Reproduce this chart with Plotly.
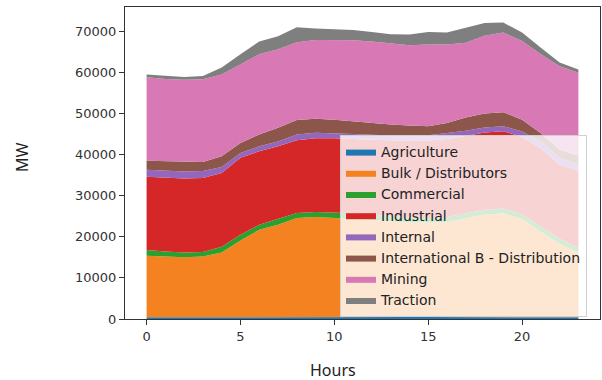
import plotly.graph_objects as go

hours = list(range(24))

agriculture = [430, 420, 420, 420, 430, 450, 470, 480, 490, 490, 490, 490,
               480, 480, 470, 470, 470, 480, 490, 490, 480, 470, 450, 440]
bulk = [14970, 14780, 14580, 14780, 15770, 18650, 21230, 22420, 24110, 24310, 24110, 23910,
        23620, 23320, 23030, 22930, 23130, 24020, 24910, 25210, 23820, 20830, 17850, 15660]
commercial = [1400, 1200, 1200, 1100, 1400, 1400, 1200, 1400, 1200, 1200, 1300, 1300,
              1300, 1200, 1200, 1200, 1200, 1200, 1200, 1200, 1200, 1200, 1200, 1200]
industrial = [17800, 18000, 18000, 18000, 17900, 18700, 17900, 17700, 17700, 18000, 18100, 18100,
              18200, 18400, 18600, 18800, 19000, 18800, 18800, 18800, 18800, 19000, 18100, 18700]
internal = [1700, 1700, 1700, 1700, 1500, 1200, 1200, 1200, 1400, 1300, 1200, 1200,
            1200, 1200, 1200, 1300, 1400, 1300, 1200, 1200, 1300, 1700, 1600, 1600]
international = [2200, 2300, 2300, 2200, 2600, 2400, 2900, 3300, 3500, 3400, 3300, 3100,
                 2900, 2700, 2600, 2200, 2500, 3200, 3400, 3400, 2900, 2000, 2000, 2200]
mining = [20300, 20000, 20000, 20100, 19900, 19200, 19500, 19100, 18900, 19200, 19400, 19700,
          19800, 19700, 19500, 19900, 19100, 18200, 18900, 19400, 19100, 19200, 20300, 20100]
traction = [700, 800, 700, 800, 1700, 2400, 3100, 3200, 3700, 2800, 2600, 2500,
            2300, 2300, 2600, 3000, 2900, 3700, 3100, 2400, 2100, 1600, 900, 800]

names = ["Agriculture", "Bulk / Distributors", "Commercial", "Industrial", "Internal",
         "International B - Distribution", "Mining", "Traction"]
series = [agriculture, bulk, commercial, industrial, internal, international, mining, traction]
colors = ["#1f77b4", "#f58220", "#2ca02c", "#d62728", "#9467bd", "#8c564b", "#d878b4", "#7f7f7f"]

x_ticks = [0, 5, 10, 15, 20]
y_ticks = [0, 10000, 20000, 30000, 40000, 50000, 60000, 70000]

fig = go.Figure()
for name, vals, col in zip(names, series, colors):
    fig.add_trace(go.Scatter(
        x=hours, y=vals, name=name, mode="lines", stackgroup="one",
        line=dict(width=0, color=col), fillcolor=col,
    ))

fig.update_layout(
    width=602, height=380,
    margin=dict(l=125, r=2, t=7, b=61),
    paper_bgcolor="white", plot_bgcolor="white",
    showlegend=True,
    legend=dict(
        x=(340 - 125) / 475, y=(319 - 135) / 312, xanchor="left", yanchor="top",
        bgcolor="rgba(255,255,255,0.8)", bordercolor="#d0d0d0", borderwidth=1,
        font=dict(family="DejaVu Sans", size=14, color="#222"),
        itemwidth=30, traceorder="normal", tracegroupgap=0,
    ),
    font=dict(family="DejaVu Sans", size=13, color="#333"),
)
fig.update_xaxes(
    range=[-1.15, 24.15], tickvals=x_ticks, ticks="outside", ticklen=5,
    tickcolor="#333", showline=True, linecolor="#333", linewidth=1, mirror=True,
    showgrid=False, zeroline=False, tickfont=dict(family="DejaVu Sans", size=13, color="#333"),
)
fig.update_yaxes(
    range=[0, 75900], tickvals=y_ticks, tickformat="d", ticks="outside", ticklen=5,
    tickcolor="#333", showline=True, linecolor="#333", linewidth=1, mirror=True,
    showgrid=False, zeroline=False, tickfont=dict(family="DejaVu Sans", size=13, color="#333"),
)
fig.add_annotation(text="MW", xref="paper", yref="paper", x=(22 - 125) / 475, y=(319 - 157) / 312,
                   xanchor="center", yanchor="middle",
                   showarrow=False, textangle=-90, font=dict(family="Noto Sans", size=16, color="#222"))
fig.add_annotation(text="Hours", xref="paper", yref="paper", x=(333 - 125) / 475, y=(319 - 370) / 312,
                   xanchor="center", yanchor="middle",
                   showarrow=False, font=dict(family="Noto Sans", size=16, color="#222"))

fig.write_html("out.html", config={"displayModeBar": False},
               post_script="document.body.style.margin='0';")
